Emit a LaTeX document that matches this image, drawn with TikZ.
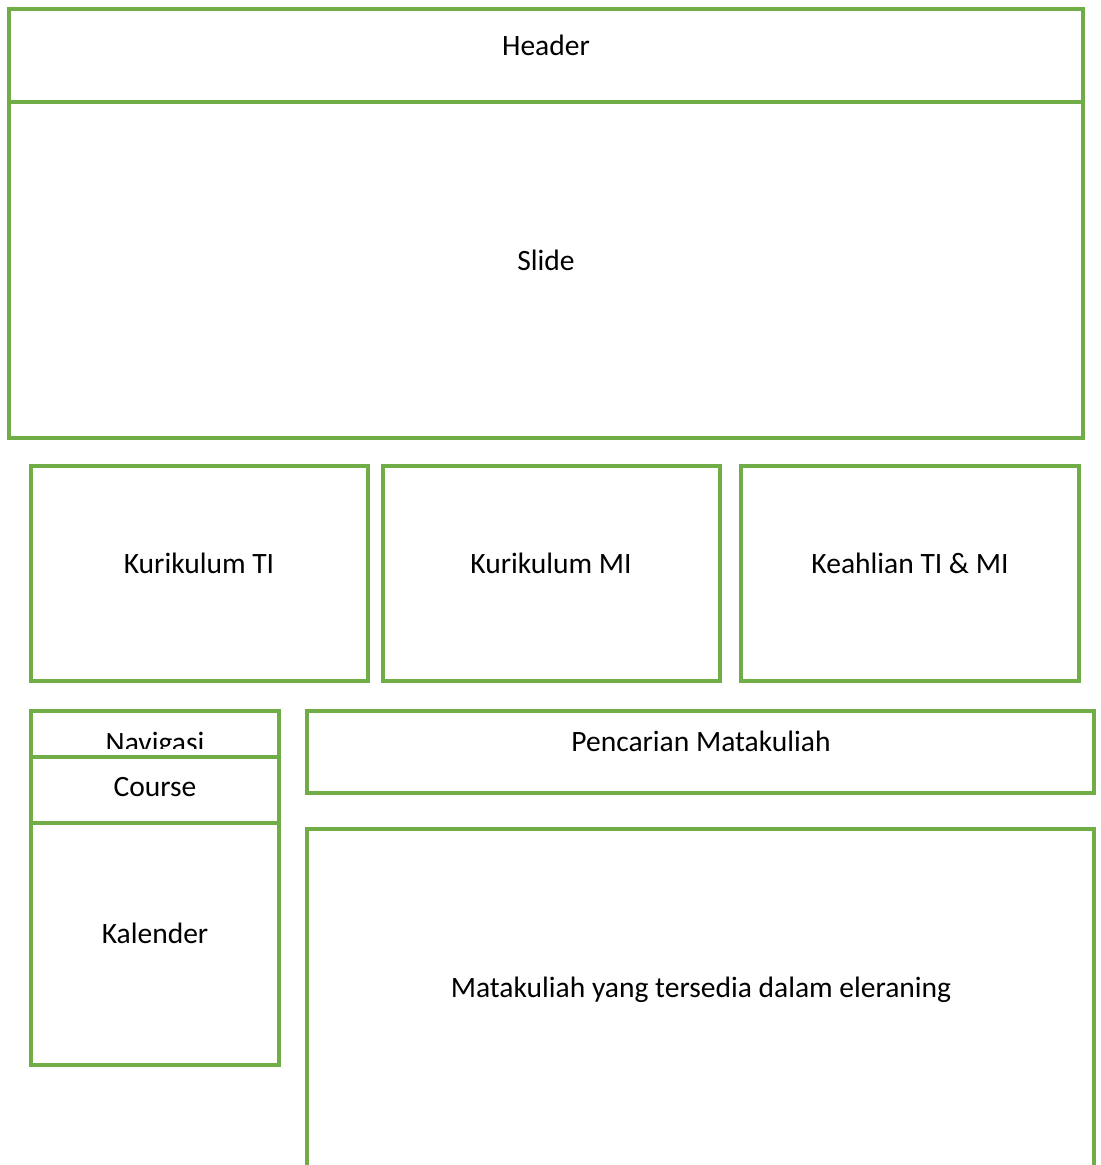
\documentclass[tikz,border=0pt]{standalone}
\usepackage{fontspec}
\setmainfont{Carlito}
\usepackage{tikz}
\usetikzlibrary{positioning,fit}
\definecolor{mygreen}{RGB}{112,173,71}

\begin{document}
\begin{tikzpicture}[x=0.025cm,y=-0.025cm,
  pane/.style={draw=mygreen,line width=2.3pt,fill=white,inner sep=0pt,rectangle},
  every node/.style={font=\fontsize{21}{25}\selectfont}]
\useasboundingbox (0,0) rectangle (1100,1165);
\clip (0,0) rectangle (1100,1165);
% header + slide
\node[pane,fit={(9,9) (1083,102)}] (header) {};
\node at (546,45) (headertxt) {Header};
\node[pane,fit={(9,102) (1083,438)}] (slide) {};
\node at (546,260) (slidetxt) {Slide};
% kurikulum row
\node[pane,fit={(31,466) (368,681)}] (kurti) {};
\node at (199,563) (kurtitxt) {Kurikulum TI};
\node[pane,fit={(383,466) (720,681)}] (kurmi) {};
\node at (551,563) (kurmitxt) {Kurikulum MI};
\node[pane,fit={(741,466) (1079,681)}] (keahlian) {};
\node at (910,563) (keahliantxt) {Keahlian TI \& MI};
% sidebar
\node[pane,fit={(31,711) (279,757)}] (navi) {};
\begin{scope}
\clip (31,711) rectangle (279,748); % text cut off by course box
\node at (155,745) (navitxt) {Navigasi};
\end{scope}
\node[pane,fit={(31,757) (279,823)}] (course) {};
\node at (155,787) (coursetxt) {Course};
\node[pane,fit={(31,823) (279,1065)}] (kalender) {};
\node at (155,933) (kalendertxt) {Kalender};
% main area
\node[pane,fit={(307,711) (1094,793)}] (cari) {};
\node at (701,741) (caritxt) {Pencarian Matakuliah};
\node[pane,fit={(307,829) (1094,1200)}] (matkul) {};
\node at (701,990) (matkultxt) {Matakuliah yang tersedia dalam eleraning};
\end{tikzpicture}
\end{document}
